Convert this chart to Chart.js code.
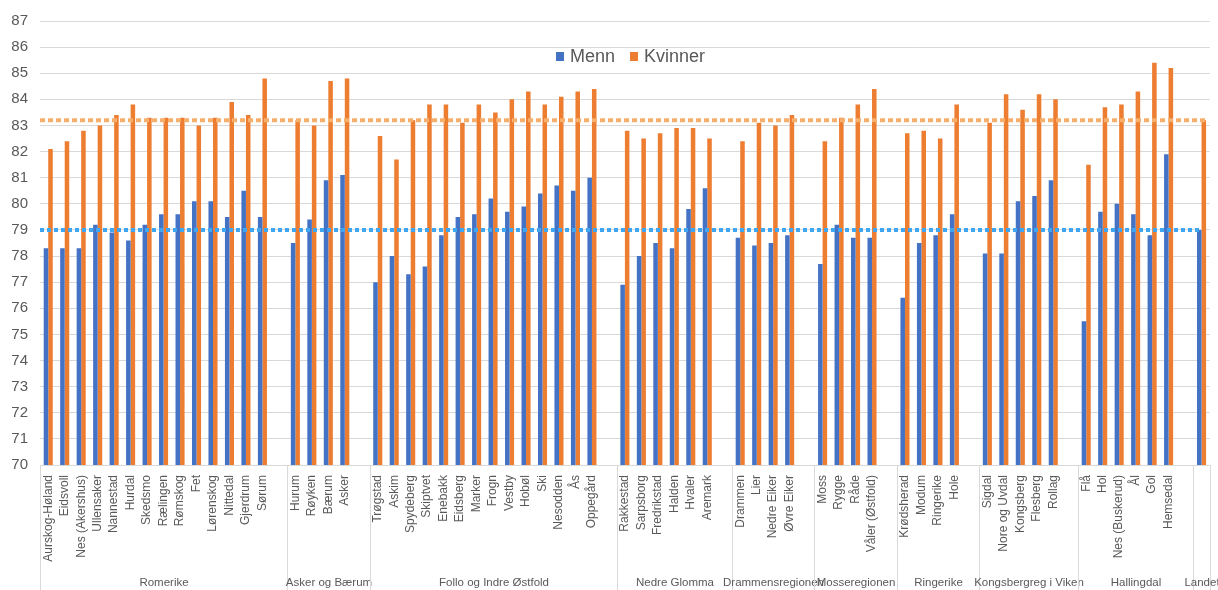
<!DOCTYPE html>
<html>
<head>
<meta charset="utf-8">
<script src="https://cdn.jsdelivr.net/npm/chart.js@4.4.1/dist/chart.umd.min.js"></script>
<style>
  body { margin: 0; background: #fff; }
  #wrap { width: 1218px; height: 590px; position: relative; }
</style>
</head>
<body>
<div id="wrap"><canvas id="chart" width="1218" height="590"></canvas></div>
<script>
// kommuner, with one empty slot at the end of each region (like the original)
const kommuner = [
  "Aurskog-Høland", "Eidsvoll", "Nes (Akershus)", "Ullensaker", "Nannestad", "Hurdal", "Skedsmo",
  "Rælingen", "Rømskog", "Fet", "Lørenskog", "Nittedal", "Gjerdrum", "Sørum", "",
  "Hurum", "Røyken", "Bærum", "Asker", "",
  "Trøgstad", "Askim", "Spydeberg", "Skiptvet", "Enebakk", "Eidsberg", "Marker", "Frogn",
  "Vestby", "Hobøl", "Ski", "Nesodden", "Ås", "Oppegård", "",
  "Rakkestad", "Sarpsborg", "Fredrikstad", "Halden", "Hvaler", "Aremark", "",
  "Drammen", "Lier", "Nedre Eiker", "Øvre Eiker", "",
  "Moss", "Rygge", "Råde", "Våler (Østfold)", "",
  "Krødsherad", "Modum", "Ringerike", "Hole", "",
  "Sigdal", "Nore og Uvdal", "Kongsberg", "Flesberg", "Rollag", "",
  "Flå", "Hol", "Nes (Buskerud)", "Ål", "Gol", "Hemsedal", "",
  ""
];

const menn = [
  78.3, 78.3, 78.3, 79.2, 78.9, 78.6, 79.2, 79.6, 79.6, 80.1, 80.1, 79.5, 80.5, 79.5, null,
  78.5, 79.4, 80.9, 81.1, null,
  77.0, 78.0, 77.3, 77.6, 78.8, 79.5, 79.6, 80.2, 79.7, 79.9, 80.4, 80.7, 80.5, 81.0, null,
  76.9, 78.0, 78.5, 78.3, 79.8, 80.6, null,
  78.7, 78.4, 78.5, 78.8, null,
  77.7, 79.2, 78.7, 78.7, null,
  76.4, 78.5, 78.8, 79.6, null,
  78.1, 78.1, 80.1, 80.3, 80.9, null,
  75.5, 79.7, 80.0, 79.6, 78.8, 81.9, null,
  79.0
];

const kvinner = [
  82.1, 82.4, 82.8, 83.0, 83.4, 83.8, 83.3, 83.3, 83.3, 83.0, 83.3, 83.9, 83.4, 84.8, null,
  83.2, 83.0, 84.7, 84.8, null,
  82.6, 81.7, 83.2, 83.8, 83.8, 83.1, 83.8, 83.5, 84.0, 84.3, 83.8, 84.1, 84.3, 84.4, null,
  82.8, 82.5, 82.7, 82.9, 82.9, 82.5, null,
  82.4, 83.1, 83.0, 83.4, null,
  82.4, 83.3, 83.8, 84.4, null,
  82.7, 82.8, 82.5, 83.8, null,
  83.1, 84.2, 83.6, 84.2, 84.0, null,
  81.5, 83.7, 83.8, 84.3, 85.4, 85.2, null,
  83.2
];

const regioner = ["Romerike", "Asker og Bærum", "Follo og Indre Østfold", "Nedre Glomma",
  "Drammensregionen", "Mosseregionen", "Ringerike", "Kongsbergreg i Viken", "Hallingdal", "Landet"];
const regionAntall = [15, 5, 15, 7, 5, 5, 5, 6, 7, 1];

const serieNavn = ["Menn", "Kvinner"];
const farger = ["#4472C4", "#ED7D31"];
const linjeFarger = ["#3FA6F2", "#F7AF6C"];

const grey = "#595959";
const fontFamily = "'Liberation Sans', Arial, sans-serif";

// dotted lines at the national average (last value = Landet)
const landetLinjer = {
  id: "landetLinjer",
  afterDatasetsDraw(chart) {
    const { ctx, chartArea, scales: { y } } = chart;
    ctx.save();
    chart.data.datasets.forEach((ds, i) => {
      const meta = chart.getDatasetMeta(i);
      const last = meta.data[meta.data.length - 1];
      const yy = y.getPixelForValue(ds.data[ds.data.length - 1]);
      ctx.beginPath();
      ctx.setLineDash(i === 0 ? [4, 3] : [5, 3]);
      ctx.lineWidth = 4;
      ctx.strokeStyle = linjeFarger[i];
      ctx.moveTo(chartArea.left, yy);
      ctx.lineTo(last.x + last.width / 2, yy);
      ctx.stroke();
    });
    ctx.restore();
  }
};

// region separators + region names under the kommune labels, and the legend
const regionAkse = {
  id: "regionAkse",
  afterDraw(chart) {
    const { ctx, chartArea, scales: { x } } = chart;
    const slot = x.getPixelForValue(1) - x.getPixelForValue(0);
    ctx.save();
    ctx.strokeStyle = "#d9d9d9";
    ctx.lineWidth = 1;
    ctx.fillStyle = grey;
    ctx.font = "11.5px " + fontFamily;
    ctx.textAlign = "center";
    ctx.textBaseline = "middle";
    let start = 0;
    regionAntall.forEach((n, i) => {
      const left = Math.round(x.getPixelForValue(start) - slot / 2) + 0.5;
      const right = Math.round(x.getPixelForValue(start + n - 1) + slot / 2) + 0.5;
      ctx.beginPath();
      ctx.moveTo(left, chartArea.bottom);
      ctx.lineTo(left, chart.height);
      if (i === regionAntall.length - 1) {
        ctx.moveTo(right, chartArea.bottom);
        ctx.lineTo(right, chart.height);
      }
      ctx.stroke();
      ctx.fillText(regioner[i], (left + right) / 2, 583);
      start += n;
    });

    // legend
    ctx.font = "18px " + fontFamily;
    ctx.textAlign = "left";
    const lx = [556, 630];
    serieNavn.forEach((navn, i) => {
      ctx.fillStyle = farger[i];
      ctx.fillRect(lx[i], 52, 8, 9);
      ctx.fillStyle = grey;
      ctx.fillText(navn, lx[i] + 14, 57);
    });
    ctx.restore();
  }
};

new Chart(document.getElementById("chart"), {
  type: "bar",
  data: {
    labels: kommuner,
    datasets: [
      { label: serieNavn[0], data: menn, backgroundColor: farger[0] },
      { label: serieNavn[1], data: kvinner, backgroundColor: farger[1] }
    ]
  },
  options: {
    responsive: false,
    animation: false,
    layout: { padding: { top: 20, right: 8, left: 0, bottom: 0 } },
    datasets: { bar: { categoryPercentage: 0.55, barPercentage: 1 } },
    plugins: {
      legend: { display: false },
      tooltip: { enabled: false }
    },
    scales: {
      x: {
        grid: { display: false },
        border: { display: false },
        afterFit: s => { s.height = 125; },
        ticks: {
          autoSkip: false,
          minRotation: 90,
          maxRotation: 90,
          padding: 2,
          color: grey,
          font: { size: 12, family: fontFamily }
        }
      },
      y: {
        min: 70,
        max: 87,
        grid: { color: "#d9d9d9", drawTicks: false },
        border: { display: false },
        afterFit: s => { s.width = 40; },
        ticks: {
          stepSize: 1,
          padding: 12,
          color: grey,
          font: { size: 15, family: fontFamily }
        }
      }
    }
  },
  plugins: [landetLinjer, regionAkse]
});
</script>
</body>
</html>
